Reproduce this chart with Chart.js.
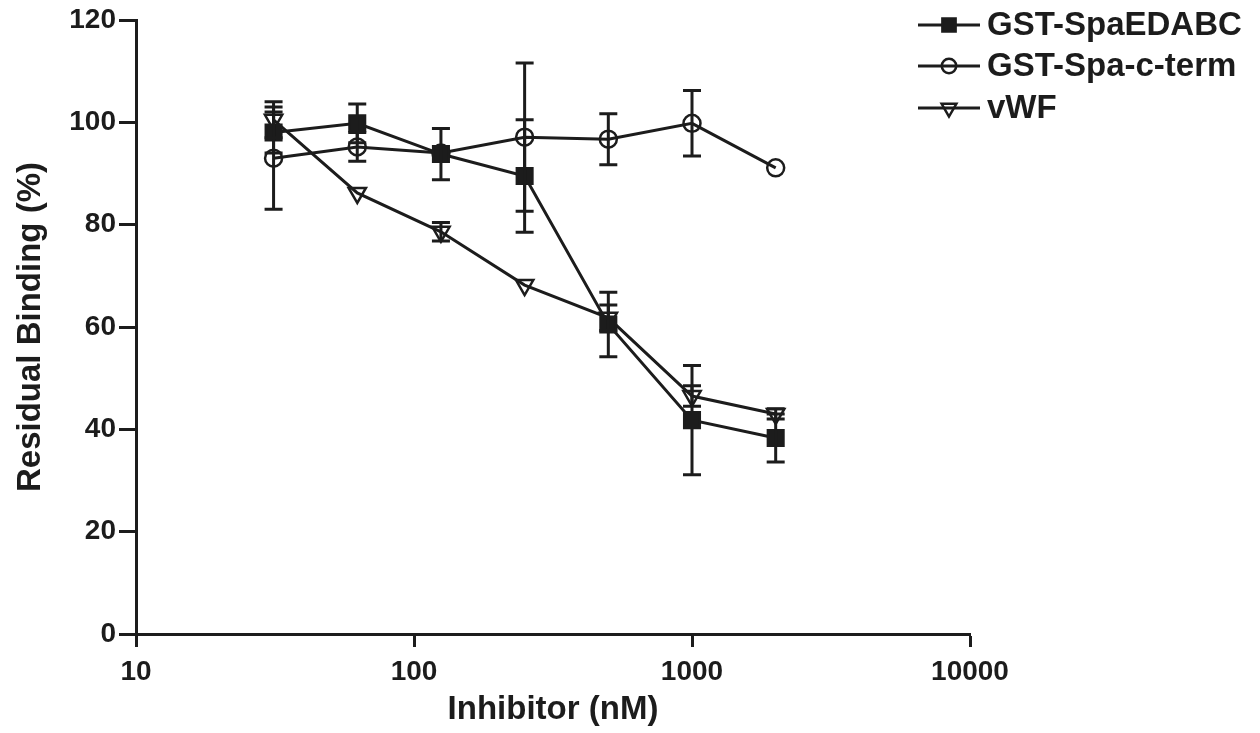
<!DOCTYPE html>
<html>
<head>
<meta charset="utf-8">
<script src="https://cdn.jsdelivr.net/npm/chart.js@4.4.1/dist/chart.umd.min.js"></script>
<style>
  html, body { margin: 0; padding: 0; background: #fff; }
  #wrap { width: 1260px; height: 733px; }
</style>
</head>
<body>
<div id="wrap"><canvas id="chart" width="1260" height="733"></canvas></div>
<script>
(function () {
    'use strict';

    // inhibitor concentrations (nM)
    var concentrations = [31.25, 62.5, 125, 250, 500, 1000, 2000];

    // residual binding (%) and error (+/-) per series
    var edabc = [98, 99.8, 93.8, 89.5, 60.5, 41.8, 38.3];
    var edabcErr = [4, 3.8, 5, 11, 6.3, 10.7, 4.7];
    var cterm = [93, 95.2, 94, 97.1, 96.7, 99.8, 91.1];
    var ctermErr = [10, 2.8, 0, 14.5, 5, 6.4, 0];
    var vwf = [100.5, 86.2, 78.6, 68.2, 61.8, 46.5, 43];
    var vwfErr = [3.5, 0, 1.8, 0, 2.5, 2, 1];

    var seriesNames = ['GST-SpaEDABC', 'GST-Spa-c-term', 'vWF'];
    var xTicks = [10, 100, 1000, 10000];
    var yTicks = [0, 20, 40, 60, 80, 100, 120];

    var ink = '#1c1c1c';
    var fam = '"Liberation Sans", Arial, sans-serif';

    function points(ys) {
        return concentrations.map(function (c, i) {
            return { x: c, y: ys[i] };
        });
    }

    function series(label, ys, errs, style, radius, rotation, filled) {
        return {
            label: label,
            data: points(ys),
            errors: errs,
            borderColor: ink,
            borderWidth: 3,
            pointStyle: style,
            pointRadius: radius,
            pointRotation: rotation,
            pointBorderWidth: 2.5,
            pointBorderColor: ink,
            pointBackgroundColor: filled ? ink : 'rgba(0,0,0,0)',
            fill: false,
            tension: 0
        };
    }

    // vertical error bars with caps, placed through the chart's own scales
    var errorBars = {
        id: 'errorBars',
        afterDatasetsDraw: function (chart) {
            var ctx = chart.ctx;
            var xs = chart.scales.x, ys = chart.scales.y;
            ctx.save();
            ctx.strokeStyle = ink;
            ctx.lineWidth = 3;
            chart.data.datasets.forEach(function (ds) {
                ds.data.forEach(function (p, i) {
                    var e = ds.errors[i];
                    if (!e) return;
                    var px = xs.getPixelForValue(p.x);
                    var top = ys.getPixelForValue(p.y + e);
                    var bot = ys.getPixelForValue(p.y - e);
                    ctx.beginPath();
                    ctx.moveTo(px, top); ctx.lineTo(px, bot);
                    ctx.moveTo(px - 9, top); ctx.lineTo(px + 9, top);
                    ctx.moveTo(px - 9, bot); ctx.lineTo(px + 9, bot);
                    ctx.stroke();
                });
            });
            ctx.restore();
        }
    };

    // legend to the right of the plot: line, marker, label
    var sideLegend = {
        id: 'sideLegend',
        afterDraw: function (chart) {
            var ctx = chart.ctx;
            var rows = [25, 66, 108];
            ctx.save();
            chart.data.datasets.forEach(function (ds, i) {
                var y = rows[i];
                ctx.strokeStyle = ink;
                ctx.lineWidth = 3;
                ctx.beginPath();
                ctx.moveTo(918, y); ctx.lineTo(980, y);
                ctx.stroke();
                ctx.fillStyle = ds.pointBackgroundColor;
                ctx.lineWidth = 2.5;
                Chart.helpers.drawPoint(ctx, {
                    pointStyle: ds.pointStyle,
                    radius: ds.pointRadius * 0.85,
                    rotation: ds.pointRotation,
                    borderWidth: 2.5
                }, 949, y);
                ctx.fillStyle = ink;
                ctx.font = 'bold 33px ' + fam;
                ctx.textBaseline = 'middle';
                ctx.textAlign = 'left';
                ctx.fillText(seriesNames[i], 987, y + 1);
            });
            ctx.restore();
        }
    };

    var ctx = document.getElementById('chart').getContext('2d');
    new Chart(ctx, {
        type: 'line',
        data: {
            datasets: [
                series(seriesNames[0], edabc, edabcErr, 'rect', 11, 0, true),
                series(seriesNames[1], cterm, ctermErr, 'circle', 8.5, 0, false),
                series(seriesNames[2], vwf, vwfErr, 'triangle', 10, 180, false)
            ]
        },
        options: {
            responsive: false,
            animation: false,
            devicePixelRatio: 1,
            layout: { padding: { left: 0, right: 290, top: 20, bottom: 0 } },
            plugins: {
                legend: { display: false },
                tooltip: { enabled: false }
            },
            scales: {
                x: {
                    type: 'logarithmic',
                    min: 10,
                    max: 10000,
                    afterBuildTicks: function (s) {
                        s.ticks = xTicks.map(function (v) { return { value: v, major: true }; });
                    },
                    afterFit: function (s) { s.height = 99; },
                    ticks: {
                        autoSkip: false,
                        maxRotation: 0,
                        padding: 8,
                        color: ink,
                        font: { family: fam, size: 28, weight: 'bold' },
                        callback: function (v) { return String(v); }
                    },
                    grid: {
                        drawOnChartArea: false,
                        drawTicks: true,
                        tickLength: 13,
                        tickWidth: 3,
                        tickColor: ink
                    },
                    border: { display: true, width: 3, color: ink },
                    title: {
                        display: true,
                        text: 'Inhibitor (nM)',
                        color: ink,
                        font: { family: fam, size: 33, weight: 'bold' },
                        padding: { top: 0, bottom: 3 }
                    }
                },
                y: {
                    min: 0,
                    max: 120,
                    afterBuildTicks: function (s) {
                        s.ticks = yTicks.map(function (v) { return { value: v }; });
                    },
                    afterFit: function (s) { s.width = 136; },
                    ticks: {
                        padding: 3,
                        color: ink,
                        font: { family: fam, size: 28, weight: 'bold' }
                    },
                    grid: {
                        drawOnChartArea: false,
                        drawTicks: true,
                        tickLength: 17,
                        tickWidth: 3,
                        tickColor: ink
                    },
                    border: { display: true, width: 3, color: ink },
                    title: {
                        display: true,
                        text: 'Residual Binding (%)',
                        color: ink,
                        font: { family: fam, size: 33, weight: 'bold' },
                        padding: { top: 11, bottom: 0 }
                    }
                }
            }
        },
        plugins: [errorBars, sideLegend]
    });
})();
</script>
</body>
</html>
